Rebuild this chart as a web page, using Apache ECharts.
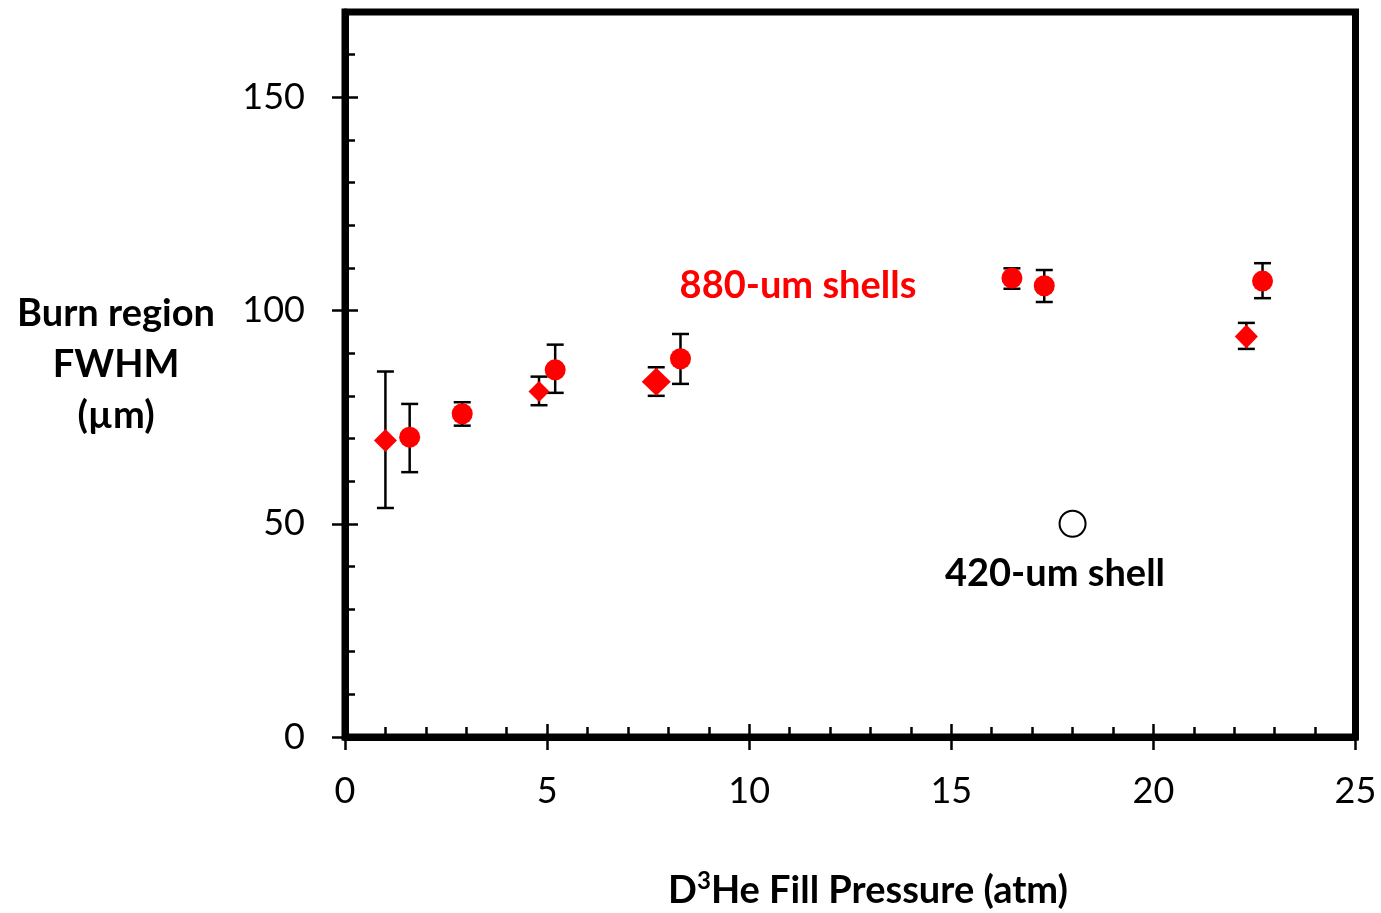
<!DOCTYPE html>
<html>
<head>
<meta charset="utf-8">
<script src="https://cdn.jsdelivr.net/npm/echarts@6/dist/echarts.min.js"></script>
<style>
  html, body { margin: 0; padding: 0; background: #fff; }
  #chart { width: 1381px; height: 913px; }
</style>
</head>
<body>
<div id="chart"></div>
<script>
// Burn region FWHM versus D3He fill pressure, 880-um and 420-um shells

// Diamond markers (880-um shells)
const diamondX    = [1.0, 4.8, 7.7, 22.3];
const diamondY    = [69.5, 81.0, 83.3, 93.9];
const diamondLow  = [53.7, 77.8, 80.0, 91.0];
const diamondHigh = [85.7, 84.5, 86.7, 97.1];

// Circle markers (880-um shells)
const circleX    = [1.6, 2.9, 5.2, 8.3, 16.5, 17.3, 22.7];
const circleY    = [70.3, 75.8, 86.1, 88.7, 107.6, 105.8, 106.9];
const circleLow  = [62.1, 73.0, 80.7, 82.8, 105.1, 102.0, 102.9];
const circleHigh = [78.1, 78.5, 92.0, 94.5, 109.9, 109.5, 111.1];

// Open circle (420-um shell)
const openX = [18.0];
const openY = [50.0];

// Axis ticks
const xMajorTicks = [0, 5, 10, 15, 20, 25];
const yMajorTicks = [0, 50, 100, 150];

// Marker sizes for the diamonds (the 7.7 atm point is drawn larger)
const diamondSizes = [[23, 23], [21, 21], [29, 28], [23, 24]];

const FONT = 'Lato, "Open Sans", sans-serif';
const RED = '#ff0000';

const pairs = (xs, ys) => xs.map((x, i) => [x, ys[i]]);
const errRows = (xs, lo, hi) => xs.map((x, i) => [x, lo[i], hi[i]]);

function renderErr(params, api) {
  const x = api.value(0);
  const lo = api.coord([x, api.value(1)]);
  const hi = api.coord([x, api.value(2)]);
  const half = 8.5;
  const style = { stroke: '#000', lineWidth: 2.5 };
  return {
    type: 'group',
    children: [
      { type: 'line', shape: { x1: lo[0], y1: lo[1], x2: hi[0], y2: hi[1] }, style },
      { type: 'line', shape: { x1: lo[0] - half, y1: lo[1], x2: lo[0] + half, y2: lo[1] }, style },
      { type: 'line', shape: { x1: hi[0] - half, y1: hi[1], x2: hi[0] + half, y2: hi[1] }, style }
    ]
  };
}

const baseX = { type: 'value', min: 0, max: 25, position: 'bottom', offset: 0, splitLine: { show: false } };
const baseY = { type: 'value', min: 0, max: 170, position: 'left', offset: 0, splitLine: { show: false } };

const option = {
  animation: false,
  backgroundColor: '#fff',
  grid: {
    left: 345, right: 25.5, top: 12, bottom: 176,
    show: true, borderColor: '#000', borderWidth: 7, backgroundColor: 'transparent'
  },
  xAxis: [
    Object.assign({}, baseX, {
      interval: 1,
      axisLine: { show: true, lineStyle: { color: '#000', width: 7 } },
      axisTick: { show: true, inside: true, length: 10, lineStyle: { color: '#000', width: 2.5 } },
      axisLabel: { show: false }
    }),
    Object.assign({}, baseX, {
      interval: 5,
      axisLine: { show: false },
      axisTick: { show: true, inside: true, length: 13, customValues: xMajorTicks, lineStyle: { color: '#000', width: 2.5 } },
      axisLabel: { show: true, customValues: xMajorTicks, margin: 36, color: '#000', fontFamily: FONT, fontSize: 36 }
    }),
    Object.assign({}, baseX, {
      interval: 5,
      axisLine: { show: false },
      axisTick: { show: true, inside: false, length: 13, customValues: xMajorTicks, lineStyle: { color: '#000', width: 2.5 } },
      axisLabel: { show: false }
    })
  ],
  yAxis: [
    Object.assign({}, baseY, {
      interval: 10,
      axisLine: { show: true, lineStyle: { color: '#000', width: 7 } },
      axisTick: { show: true, inside: true, length: 10, lineStyle: { color: '#000', width: 2.5 } },
      axisLabel: { show: false }
    }),
    Object.assign({}, baseY, {
      interval: 50,
      axisLine: { show: false },
      axisTick: { show: true, inside: true, length: 13, customValues: yMajorTicks, lineStyle: { color: '#000', width: 2.5 } },
      axisLabel: { show: true, customValues: yMajorTicks, margin: 40, color: '#000', fontFamily: FONT, fontSize: 36 }
    }),
    Object.assign({}, baseY, {
      interval: 50,
      axisLine: { show: false },
      axisTick: { show: true, inside: false, length: 13, customValues: yMajorTicks, lineStyle: { color: '#000', width: 2.5 } },
      axisLabel: { show: false }
    })
  ],
  series: [
    {
      type: 'custom', name: 'diamond errors', xAxisIndex: 0, yAxisIndex: 0, z: 2,
      renderItem: renderErr, encode: { x: 0, y: [1, 2] },
      data: errRows(diamondX, diamondLow, diamondHigh)
    },
    {
      type: 'custom', name: 'circle errors', xAxisIndex: 0, yAxisIndex: 0, z: 2,
      renderItem: renderErr, encode: { x: 0, y: [1, 2] },
      data: errRows(circleX, circleLow, circleHigh)
    },
    {
      type: 'scatter', name: 'diamonds', xAxisIndex: 0, yAxisIndex: 0, z: 3,
      symbol: 'diamond',
      symbolSize: (v, p) => diamondSizes[p.dataIndex],
      itemStyle: { color: RED, opacity: 1 },
      data: pairs(diamondX, diamondY)
    },
    {
      type: 'scatter', name: 'circles', xAxisIndex: 0, yAxisIndex: 0, z: 3,
      symbol: 'circle', symbolSize: 21,
      itemStyle: { color: RED, opacity: 1 },
      data: pairs(circleX, circleY)
    },
    {
      type: 'scatter', name: 'open', xAxisIndex: 0, yAxisIndex: 0, z: 3,
      symbol: 'circle', symbolSize: 26,
      itemStyle: { color: '#fff', borderColor: '#000', borderWidth: 2, opacity: 1 },
      data: pairs(openX, openY)
    }
  ],
  graphic: [
    {
      type: 'text', x: 116, y: 365,
      style: {
        text: 'Burn region\nFWHM\n(µm)', textAlign: 'center', textVerticalAlign: 'middle',
        fontFamily: FONT, fontWeight: 'bold', fontSize: 38, lineHeight: 51, fill: '#000'
      }
    },
    {
      type: 'text', x: 868, y: 891,
      style: {
        text: 'D{sup|3}He Fill Pressure (atm)', textAlign: 'center', textVerticalAlign: 'middle',
        fontFamily: FONT, fontWeight: 'bold', fontSize: 38, lineHeight: 44, fill: '#000',
        rich: {
          sup: { fontFamily: FONT, fontWeight: 'bold', fontSize: 24, lineHeight: 24, verticalAlign: 'top', fill: '#000' }
        }
      }
    },
    {
      type: 'text', x: 798, y: 286,
      style: {
        text: '880-um shells', textAlign: 'center', textVerticalAlign: 'middle',
        fontFamily: FONT, fontWeight: 'bold', fontSize: 38, fill: RED
      }
    },
    {
      type: 'text', x: 1055, y: 574,
      style: {
        text: '420-um shell', textAlign: 'center', textVerticalAlign: 'middle',
        fontFamily: FONT, fontWeight: 'bold', fontSize: 38, fill: '#000'
      }
    }
  ]
};

const chart = echarts.init(document.getElementById('chart'), null, { renderer: 'canvas' });
chart.setOption(option);
</script>
</body>
</html>
